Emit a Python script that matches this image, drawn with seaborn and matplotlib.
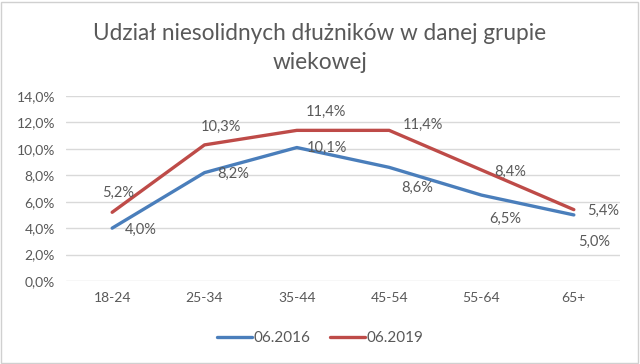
import matplotlib
matplotlib.use("Agg")
import matplotlib.pyplot as plt
import seaborn as sns
import pandas as pd
from matplotlib.ticker import FuncFormatter, MultipleLocator
from matplotlib.patches import Rectangle
from matplotlib.lines import Line2D

categories = ["18-24", "25-34", "35-44", "45-54", "55-64", "65+"]
series_2016 = [4.0, 8.2, 10.1, 8.6, 6.5, 5.0]
series_2019 = [5.2, 10.3, 11.4, 11.4, 8.4, 5.4]
series_names = ["06.2016", "06.2019"]
title_text = "Udział niesolidnych dłużników w danej grupie\nwiekowej"

sns.set_theme(style="white")
plt.rcParams['font.family'] = ['Lato', 'DejaVu Sans']

df = pd.DataFrame({
    "kat": categories * 2,
    "val": series_2016 + series_2019,
    "ser": [series_names[0]] * 6 + [series_names[1]] * 6,
})

W, H = 640, 364
fig = plt.figure(figsize=(W / 100, H / 100), dpi=100)
ax = fig.add_axes([66 / W, 1 - 281 / H, (620 - 66) / W, (281 - 96) / H])

colors = {"06.2016": "#4A7EBB", "06.2019": "#BE4B48"}
sns.lineplot(data=df, x="kat", y="val", hue="ser", palette=colors, sort=False,
             linewidth=2.4, ax=ax, legend=False)

txt = "#595959"
ax.set_ylim(0, 14)
ax.set_xlim(-0.5, 5.5)
ax.yaxis.set_major_locator(MultipleLocator(2))
ax.yaxis.set_major_formatter(FuncFormatter(lambda v, p: f"{v:.1f}%".replace(".", ",")))
ax.grid(axis="y", color="#D9D9D9", linewidth=1)
ax.set_axisbelow(True)
for s in ax.spines.values():
    s.set_visible(False)
ax.set_xlabel("")
ax.set_ylabel("")
ax.tick_params(axis="both", length=0, labelsize=10, labelcolor=txt)
ax.tick_params(axis="x", pad=8)
ax.tick_params(axis="y", pad=8)

offs_2016 = [(29, -2), (29, -1), (30, 0), (28, -21), (24, -24), (20, -27)]
offs_2019 = [(6, 19), (16, 18), (29, 18), (34, 5), (29, -2), (29, -1)]
for vals, offs in ((series_2016, offs_2016), (series_2019, offs_2019)):
    for i, (v, o) in enumerate(zip(vals, offs)):
        ax.annotate(f"{v:.1f}%".replace(".", ","), (i, v), xytext=o,
                    textcoords="offset pixels", ha="center", va="center",
                    fontsize=10.5, color=txt)

fig.text(0.5, 1 - 48 / H, title_text, ha="center", va="center",
         fontsize=16.3, color=txt, linespacing=1.45)

handles = [Line2D([], [], color=colors[n], linewidth=2.4) for n in series_names]
fig.legend(handles, series_names, loc="center", bbox_to_anchor=(0.5, 1 - 338 / H),
           ncol=2, frameon=False, fontsize=11, labelcolor=txt,
           handlelength=2.3, handletextpad=0.1, columnspacing=1.3)

fig.patches.append(Rectangle((1 / W, 1 / H), 1 - 3 / W, 1 - 3 / H, transform=fig.transFigure,
                             fill=False, edgecolor="#D0D0D0", linewidth=1))

fig.savefig("out.png", dpi=100, facecolor="white")
